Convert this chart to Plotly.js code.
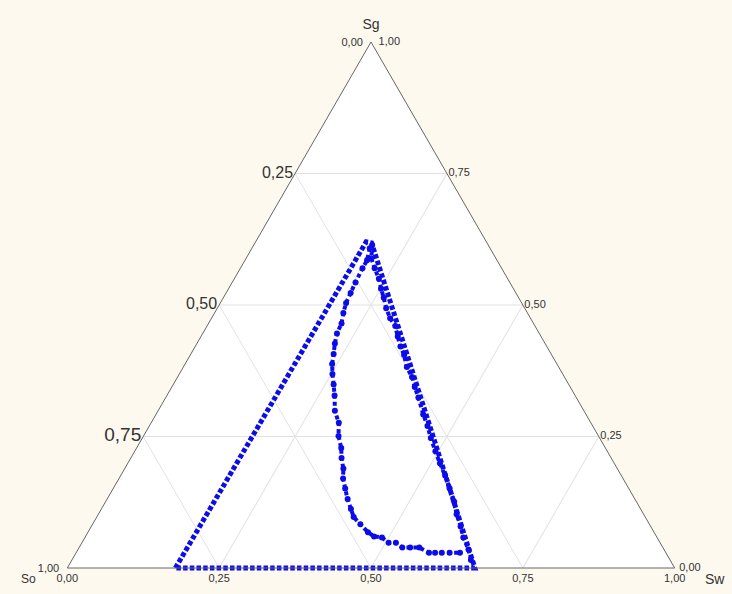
<!DOCTYPE html>
<html><head><meta charset="utf-8">
<script src="https://cdn.plot.ly/plotly-3.0.1.min.js"></script>
<style>html,body{margin:0;padding:0;background:#fdf9ee;} #chart{width:732px;height:594px;}</style>
</head><body><div id="chart"></div>
<script>
// Ternary tick positions and labels (comma decimals, as in the original)
const tickVals = [0, 0.25, 0.5, 0.75, 1];
const sgTickText = ["<span style='font-size:11px'>1,00&nbsp;&nbsp;</span>", "<span style='font-size:19px'>0,75</span>", "0,50", "0,25", "<span style='font-size:11px'>0,00&nbsp;&nbsp;</span>"];
const soTickText = ["1,00", "0,75", "0,50", "0,25", "0,00"];
const swTickText = ["&nbsp;&nbsp;1,00", "0,75", "0,50", "0,25", "&nbsp;0,00"];

// Axis (corner) names
const sgName = "Sg", soName = "So", swName = "Sw";

// Outer envelope (vertices)
const outerSg = [0, 0.620, 0.618, 0, 0];
const outerSw = [0.178, 0.182, 0.192, 0.671, 0.178];

// Inner loop points
const innerSg = [0.015,0.035,0.058,0.079,0.102,0.126,0.151,0.176,0.199,0.222,
  0.247,0.270,0.292,0.324,0.344,0.363,0.382,0.405,0.421,0.440,
  0.460,0.475,0.494,0.514,0.531,0.550,0.570,0.589,0.614,
  0.608,0.585,0.570,0.543,0.523,0.504,0.485,0.465,0.446,0.427,
  0.407,0.388,0.369,0.349,0.328,0.299,0.276,0.251,0.228,0.209,
  0.189,0.170,0.151,0.131,0.112,0.097,0.083,0.068,0.060,0.058,
  0.048,0.048,0.039,0.039,0.039,0.029,0.029,0.029,0.029,0.029];
const innerSw = [0.657,0.643,0.623,0.608,0.590,0.574,0.554,0.534,0.514,0.495,
  0.475,0.458,0.440,0.416,0.400,0.386,0.368,0.352,0.338,0.324,
  0.310,0.294,0.278,0.264,0.251,0.238,0.221,0.206,0.195,
  0.194,0.201,0.201,0.203,0.205,0.207,0.212,0.219,0.221,0.227,
  0.235,0.242,0.252,0.264,0.276,0.291,0.309,0.321,0.337,0.347,
  0.360,0.369,0.382,0.396,0.411,0.423,0.441,0.461,0.475,0.489,
  0.505,0.517,0.532,0.545,0.560,0.581,0.591,0.602,0.615,0.632];

const blue = 'rgb(12,12,235)';
const FONT = 'Liberation Sans, Arial, sans-serif';
const data = [
  {type:'scatterternary', mode:'lines', a: outerSg, c: outerSw, sum: 1, cliponaxis:false,
   line:{color: blue, width: 5, dash: '4.5px,2.2px'}, hoverinfo:'skip', showlegend:false},
  {type:'scatterternary', mode:'lines+markers', a: innerSg, c: innerSw, sum: 1, cliponaxis:false,
   line:{color: blue, width: 4, dash: '4px,3px'},
   marker:{color: blue, size: 6, symbol:'circle'}, hoverinfo:'skip', showlegend:false}
];

function axis(title, tt, tsize, titleSize){
  return {
    title:{text:title, font:{size:titleSize, color:'#333', family:FONT}},
    tickmode:'array', tickvals: tickVals, ticktext: tt, ticks:'',
    tickfont:{size:tsize, color:'#333', family:FONT},
    showline:true, linecolor:'#666', linewidth:1,
    showgrid:true, gridcolor:'#e2e2e2', gridwidth:1, min:0
  };
}

const layout = {
  width:732, height:594,
  paper_bgcolor:'#fdf9ee',
  margin:{l:66, r:56, t:42, b:26},
  showlegend:false,
  font:{family:FONT, color:'#333'},
  ternary:{
    sum:1,
    bgcolor:'#ffffff',
    aaxis: axis(sgName, sgTickText, 16, 14),
    baxis: axis('', soTickText, 11, 12),
    caxis: axis('', swTickText, 11, 14)
  },
  annotations:[
    {text: soName, xref:'paper', yref:'paper', x:-0.062, y:-0.02, xanchor:'center', yanchor:'middle', showarrow:false,
     font:{size:12, color:'#333', family:FONT}},
    {text: swName, xref:'paper', yref:'paper', x:1.064, y:-0.02, xanchor:'center', yanchor:'middle', showarrow:false,
     font:{size:14, color:'#333', family:FONT}}
  ]
};

Plotly.newPlot('chart', data, layout, {staticPlot:true, displayModeBar:false}).then(function(){
  // let the envelope's dots on the base edge show in full (not clipped at the triangle edge)
  document.querySelectorAll('.ternary .frontplot, .ternary .frontplot *, .ternary .scatterlayer, .ternary .scatterlayer *').forEach(function(el){
    el.removeAttribute('clip-path');
  });
});
</script>
</body></html>
